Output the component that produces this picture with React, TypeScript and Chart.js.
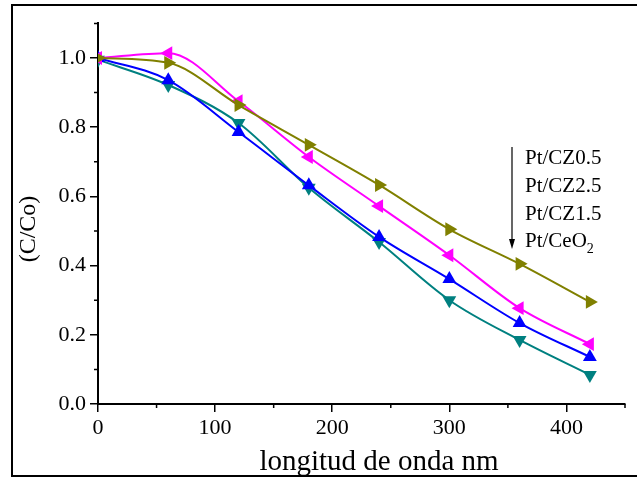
import { useEffect, useRef } from 'react';
import { Chart, registerables } from 'chart.js';
Chart.register(...registerables);

const timeValues = [0, 60, 120, 180, 240, 300, 360, 420];
const cz05Values = [1.0, 0.986, 0.864, 0.749, 0.633, 0.505, 0.405, 0.295];
const cz25Values = [1.0, 1.014, 0.875, 0.714, 0.572, 0.43, 0.277, 0.173];
const cz15Values = [1.0, 0.936, 0.786, 0.632, 0.483, 0.361, 0.234, 0.136];
const ceo2Values = [0.995, 0.922, 0.812, 0.625, 0.468, 0.30, 0.185, 0.084];
const legendLabels = ['Pt/CZ0.5', 'Pt/CZ2.5', 'Pt/CZ1.5', 'Pt/CeO'];
const xTitle = 'longitud de onda nm';
const yTitle = '(C/Co)';

const SERIF = "'Liberation Serif', 'Times New Roman', serif";

const toPoints = (ys: number[]) => timeValues.map((x, i) => ({ x, y: ys[i] }));

const decorPlugin = {
  id: 'decor',
  afterDraw(chart: any) {
    const ctx = chart.ctx as CanvasRenderingContext2D;
    const xs = chart.scales.x;
    const ys = chart.scales.y;
    ctx.save();
    // outer frame
    ctx.strokeStyle = '#000';
    ctx.lineWidth = 2;
    ctx.beginPath();
    ctx.moveTo(640, 5);
    ctx.lineTo(12, 5);
    ctx.lineTo(12, 476);
    ctx.lineTo(640, 476);
    ctx.stroke();
    // minor ticks
    ctx.lineWidth = 1.5;
    ctx.beginPath();
    for (let v = 50; v <= 450; v += 100) {
      const px = xs.getPixelForValue(v);
      ctx.moveTo(px, xs.top);
      ctx.lineTo(px, xs.top + 4);
    }
    for (let k = 1; k <= 11; k += 2) {
      const py = ys.getPixelForValue(k / 10);
      ctx.moveTo(ys.right, py);
      ctx.lineTo(ys.right - 4, py);
    }
    ctx.stroke();
    // axis titles
    ctx.fillStyle = '#000';
    ctx.font = `29px ${SERIF}`;
    ctx.textAlign = 'center';
    ctx.textBaseline = 'middle';
    ctx.fillText(xTitle, 379, 462);
    ctx.save();
    ctx.translate(29, 229);
    ctx.rotate(-Math.PI / 2);
    ctx.font = `24px ${SERIF}`;
    ctx.fillText(yTitle, 0, 0);
    ctx.restore();
    // legend text
    ctx.font = `21px ${SERIF}`;
    ctx.textAlign = 'left';
    ctx.textBaseline = 'alphabetic';
    const baselines = [164, 192, 219.5, 246.5];
    legendLabels.forEach((t, i) => {
      ctx.fillText(t, 525, baselines[i]);
    });
    const w = ctx.measureText(legendLabels[3]).width;
    ctx.font = `14px ${SERIF}`;
    ctx.fillText('2', 525 + w, 253);
    // arrow
    ctx.lineWidth = 1.2;
    ctx.beginPath();
    ctx.moveTo(512, 147);
    ctx.lineTo(512, 241);
    ctx.stroke();
    ctx.beginPath();
    ctx.moveTo(509, 239);
    ctx.lineTo(515, 239);
    ctx.lineTo(512, 249);
    ctx.closePath();
    ctx.fill();
    ctx.restore();
  },
};

export default function App() {
  const ref = useRef<HTMLCanvasElement>(null);
  useEffect(() => {
    if (!ref.current) return;
    const mk = (label: string, data: number[], color: string, rotation: number) => ({
      label,
      data: toPoints(data),
      borderColor: color,
      backgroundColor: color,
      borderWidth: 2,
      pointStyle: 'triangle',
      rotation,
      pointRadius: 8,
      pointBorderWidth: 0,
      cubicInterpolationMode: 'monotone',
      fill: false,
    });
    const chart = new Chart(ref.current, {
      type: 'line',
      data: {
        datasets: [
          mk('Pt/CZ0.5', cz05Values, '#808000', 90),
          mk('Pt/CZ2.5', cz25Values, '#ff00ff', 270),
          mk('Pt/CZ1.5', cz15Values, '#0000ff', 0),
          mk('Pt/CeO2', ceo2Values, '#008080', 180),
        ] as any,
      },
      options: {
        animation: false,
        responsive: false,
        layout: { padding: { left: 0, right: 12, top: 23.4, bottom: 0 } },
        plugins: { legend: { display: false }, tooltip: { enabled: false } },
        scales: {
          x: {
            type: 'linear',
            min: 0,
            max: 450,
            afterFit: (s: any) => { s.height = 74; },
            ticks: {
              stepSize: 50,
              autoSkip: false,
              maxRotation: 0,
              color: '#000',
              font: { family: SERIF, size: 22 },
              padding: 3,
              callback: (v: any) => (Math.round(v) % 100 === 0 ? String(v) : ''),
            },
            grid: {
              drawOnChartArea: false,
              drawTicks: true,
              tickLength: 8,
              lineWidth: 1.5,
              tickColor: (c: any) => (c.tick && Math.round(c.tick.value) % 100 === 0 ? '#000' : 'rgba(0,0,0,0)'),
            },
            border: { display: true, color: '#000', width: 2 },
          },
          y: {
            type: 'linear',
            min: 0,
            max: 1.1,
            afterFit: (s: any) => { s.width = 98; },
            ticks: {
              stepSize: 0.1,
              autoSkip: false,
              color: '#000',
              font: { family: SERIF, size: 22 },
              padding: 4,
              callback: (v: any) => (Math.round(v * 10) % 2 === 0 ? Number(v).toFixed(1) : ''),
            },
            grid: {
              drawOnChartArea: false,
              drawTicks: true,
              tickLength: 8,
              lineWidth: 1.5,
              tickColor: (c: any) => (c.tick && Math.round(c.tick.value * 10) % 2 === 0 ? '#000' : 'rgba(0,0,0,0)'),
            },
            border: { display: true, color: '#000', width: 2 },
          },
        },
      },
      plugins: [decorPlugin],
    });
    return () => chart.destroy();
  }, []);
  return (
    <div style={{ position: 'fixed', left: 0, top: 0, width: 637, height: 478, background: '#fff' }}>
      <canvas ref={ref} width={637} height={478} style={{ display: 'block' }} />
    </div>
  );
}
